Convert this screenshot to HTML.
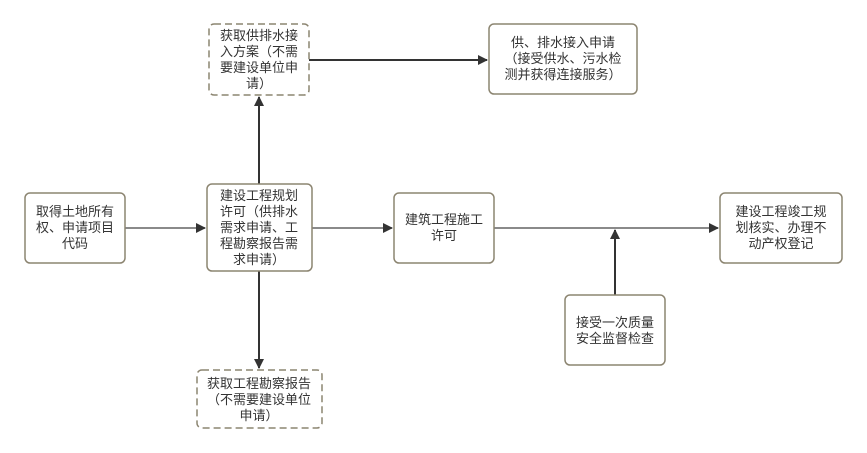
<!DOCTYPE html>
<html><head><meta charset="utf-8"><style>
html,body{margin:0;padding:0;background:#fff;width:867px;height:453px;overflow:hidden}
text{font-family:"Liberation Sans","Noto Sans CJK SC",sans-serif;font-size:13px;fill:#333;text-anchor:middle}
</style></head><body>
<svg width="867" height="453" xmlns="http://www.w3.org/2000/svg">
<defs>
<marker id="a" markerWidth="10" markerHeight="10" refX="9" refY="5" orient="auto" markerUnits="userSpaceOnUse"><path d="M0,0 L10,5 L0,10 Z" fill="#333"/></marker>
</defs>
<g stroke="#8a8a8a" stroke-width="2" fill="none">
<line x1="125" y1="228" x2="205" y2="228" marker-end="url(#a)"/>
<line x1="312" y1="228" x2="392" y2="228" marker-end="url(#a)"/>
<line x1="494" y1="228" x2="718" y2="228" marker-end="url(#a)"/>
</g>
<g stroke="#333" stroke-width="2" fill="none">
<line x1="309" y1="60" x2="487" y2="60" marker-end="url(#a)"/>
<line x1="259" y1="184" x2="259" y2="97" marker-end="url(#a)"/>
<line x1="259" y1="271" x2="259" y2="368" marker-end="url(#a)"/>
<line x1="615" y1="295" x2="615" y2="230" marker-end="url(#a)"/>
</g>
<g stroke="#8c8571" stroke-width="1.5" fill="#fff">
<rect x="25" y="193" width="100" height="70" rx="5"/>
<rect x="207" y="184" width="105" height="87" rx="5"/>
<rect x="394" y="193" width="100" height="70" rx="5"/>
<rect x="720" y="193" width="122" height="70" rx="5"/>
<rect x="565" y="295" width="100" height="70" rx="5"/>
<rect x="489" y="24" width="148" height="70" rx="5"/>
<rect x="209" y="24" width="100" height="71" rx="5" stroke-dasharray="7,4"/>
<rect x="197" y="370" width="125" height="58" rx="5" stroke-dasharray="7,4"/>
</g>
<text x="75" y="216">取得土地所有</text><text x="75" y="232">权、申请项目</text><text x="75" y="248">代码</text>
<text x="259" y="200">建设工程规划</text><text x="259" y="216">许可（供排水</text><text x="259" y="232">需求申请、工</text><text x="259" y="248">程勘察报告需</text><text x="259" y="264">求申请）</text>
<text x="444" y="224">建筑工程施工</text><text x="444" y="240">许可</text>
<text x="781" y="216">建设工程竣工规</text><text x="781" y="232">划核实、办理不</text><text x="781" y="248">动产权登记</text>
<text x="615" y="327">接受一次质量</text><text x="615" y="343">安全监督检查</text>
<text x="563" y="47">供、排水接入申请</text><text x="563" y="63">（接受供水、污水检</text><text x="563" y="79">测并获得连接服务）</text>
<text x="259" y="40">获取供排水接</text><text x="259" y="56">入方案（不需</text><text x="259" y="72">要建设单位申</text><text x="259" y="88">请）</text>
<text x="259" y="388">获取工程勘察报告</text><text x="259" y="404">（不需要建设单位</text><text x="259" y="420">申请）</text>
</svg>
</body></html>
